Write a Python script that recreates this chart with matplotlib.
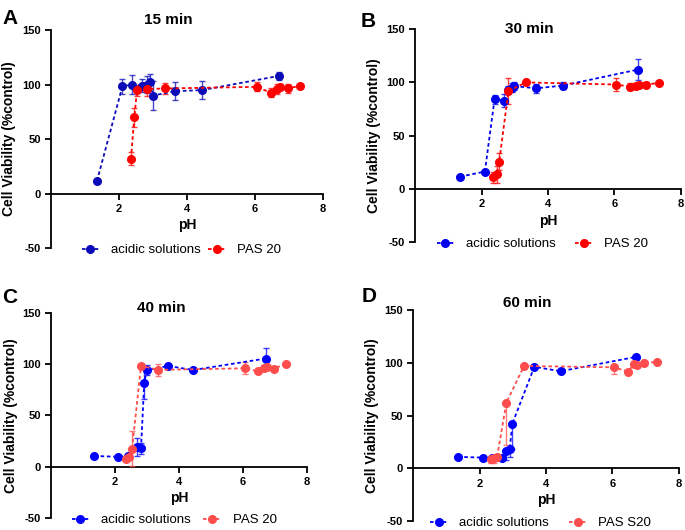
import numpy as np
import matplotlib
matplotlib.use("Agg")
import matplotlib.pyplot as plt

plt.rcParams['font.family'] = ['Liberation Sans', 'DejaVu Sans']
plt.rcParams['axes.unicode_minus'] = False

# pH values of the two series (shared by all panels)
ph_acid = [1.35, 2.10, 2.39, 2.69, 2.81, 2.91, 2.99, 3.65, 4.44, 6.70]
ph_pas = [2.35, 2.45, 2.53, 2.81, 3.34, 6.05, 6.47, 6.65, 6.74, 6.96, 7.33]

# 15 min
acid_15 = [11.5, 98.5, 100, 99, 100, 102, 90, 94, 95, 108]
acid_15_err = [1, 7, 9, 6, 8, 8, 13, 8, 8.5, 4]
pas_15 = [32, 70, 95, 96, 96.5, 98, 92.5, 96, 98, 96.5, 99]
pas_15_err = [6, 9, 5, 6, 5, 4, 4, 5, 3, 4, 1]

# 30 min
acid_30 = [11.5, 16.3, 84, 83, 93, 95, 96.5, 94.5, 97, 112]
acid_30_err = [1, 1, 4, 6, 4, 4, 4, 4, 3, 10]
pas_30 = [11, 14, 25.5, 92, 100, 98, 96, 96.5, 97.5, 98, 99.5]
pas_30_err = [5, 8, 8, 12, 1, 6, 3, 3, 3, 2, 1]

# 40 min
acid_40 = [10.5, 9.7, 10.5, 19.5, 17.8, 82, 94, 98.3, 94.3, 105.5]
acid_40_err = [1, 1, 1, 9, 5, 16, 5, 1, 1, 10]
pas_40 = [7.5, 9.4, 17.5, 98.5, 94.5, 96, 93, 96.5, 97, 95.5, 100.5]
pas_40_err = [1, 2, 17, 1, 6, 6, 1, 2, 1, 1, 1]

# 60 min (error bars drawn downward only)
acid_60 = [10.8, 10.1, 10, 10.1, 16.1, 18.7, 42.4, 96.2, 92, 105.5]
acid_60_err = [1, 1, 1, 2, 8, 8, 24, 1, 1, 8]
pas_60 = [9.2, 10, 10.8, 62.3, 97, 95.7, 91.6, 98.8, 98, 100, 100.7]
pas_60_err = [4, 5, 3, 40, 1, 6, 1, 2, 2, 1, 1]

panels = [
    # letter, title, acid, acid err, pas, pas err, pas label, blue, red, axes rect, title dy, colspacing, lower only
    ('A', '15 min', acid_15, acid_15_err, pas_15, pas_15_err, 'PAS 20', '#0b0bb8', '#ff0000',
     [0.0745, 0.532, 0.397, 0.411], 0.046, 0.6, False),
    ('B', '30 min', acid_30, acid_30_err, pas_30, pas_30_err, 'PAS 20', '#0000ee', '#ff0000',
     [0.606, 0.543, 0.388, 0.402], 0.003, 1.5, False),
    ('C', '40 min', acid_40, acid_40_err, pas_40, pas_40_err, 'PAS 20', '#0000ff', '#ff4d4d',
     [0.0745, 0.0226, 0.374, 0.387], 0.024, 1.0, False),
    ('D', '60 min', acid_60, acid_60_err, pas_60, pas_60_err, 'PAS S20', '#0000ff', '#ff4d4d',
     [0.603, 0.017, 0.388, 0.398], 0.033, 1.5, True),
]

fig = plt.figure(figsize=(6.85, 5.3), dpi=100)

for letter, title, acid, acid_err, pas, pas_err, pas_lab, blue, red, rect, tdy, colsp, lower in panels:
    ax = fig.add_axes(rect)
    if lower:
        ae = [acid_err, np.zeros(len(acid_err))]
        pe = [pas_err, np.zeros(len(pas_err))]
    else:
        ae, pe = acid_err, pas_err
    style = dict(fmt='none', capsize=2.5, elinewidth=1, capthick=1, zorder=3, alpha=0.75)
    ax.errorbar(ph_acid, acid, yerr=ae, ecolor=blue, **style)
    ax.errorbar(ph_pas, pas, yerr=pe, ecolor=red, **style)
    la, = ax.plot(ph_acid, acid, color=blue, ls=(0, (2, 1.5)), lw=1.3, marker='o', ms=5.5,
                  label='acidic solutions', zorder=4)
    lp, = ax.plot(ph_pas, pas, color=red, ls=(0, (2, 1.5)), lw=1.3, marker='o', ms=5.5,
                  label=pas_lab, zorder=4)

    ax.set_xlim(0, 8)
    ax.set_ylim(-50, 150)
    ax.set_xticks([2, 4, 6, 8])
    ax.set_yticks([-50, 0, 50, 100, 150])
    ax.spines['top'].set_visible(False)
    ax.spines['right'].set_visible(False)
    ax.spines['bottom'].set_position(('data', 0))
    ax.spines['left'].set_linewidth(1.3)
    ax.spines['bottom'].set_linewidth(1.3)
    ax.tick_params(direction='out', length=4, width=1.3, labelsize=8)
    for lab in ax.get_xticklabels() + ax.get_yticklabels():
        lab.set_fontweight('bold')

    ax.set_xlabel('pH', fontsize=10, fontweight='bold', labelpad=3)
    ax.set_ylabel('Cell Viability (%control)', fontsize=10, fontweight='bold')
    ax.yaxis.set_label_coords(-0.127, 0.5)

    ax.text(0.43, 1 + tdy, title, transform=ax.transAxes, ha='center', va='center',
            fontsize=11, fontweight='bold')

    ax.legend(handles=[la, lp], loc='center', bbox_to_anchor=(0.48, -0.01), ncol=2,
              frameon=False, fontsize=9.5, handlelength=1.3, handletextpad=0.9,
              columnspacing=colsp, borderpad=0)

letters = [('A', 0.003, 0.965), ('B', 0.526, 0.96), ('C', 0.003, 0.438), ('D', 0.528, 0.44)]
for l, x, y in letters:
    fig.text(x, y, l, fontsize=15, fontweight='bold', va='center', ha='left')

fig.savefig('out.png', dpi=100)
